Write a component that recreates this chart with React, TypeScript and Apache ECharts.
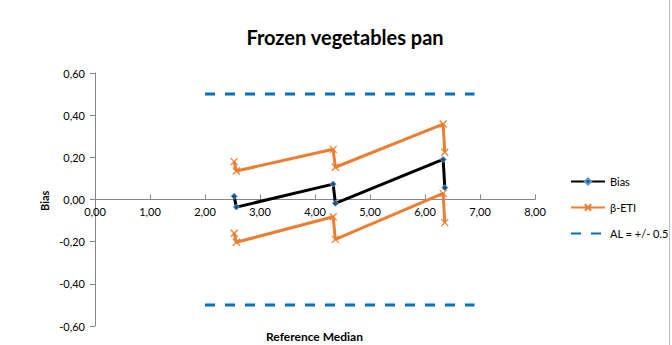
import React, { useEffect, useRef } from "react";
import * as echarts from "echarts";

// Reference median of each sample (two close points per level)
const medianX: number[] = [2.53, 2.57, 4.33, 4.37, 6.33, 6.36];
// Bias at each point
const biasValues: number[] = [0.015, -0.036, 0.073, -0.018, 0.19, 0.056];
// β-expectation tolerance interval, upper and lower limits
const etiUpper: number[] = [0.18, 0.135, 0.238, 0.153, 0.358, 0.224];
const etiLower: number[] = [-0.16, -0.203, -0.082, -0.189, 0.029, -0.11];
// Acceptance limits
const alX: number[] = [2.0, 6.9];
const alLevel = 0.5;

const xTicks = { min: 0, max: 8, interval: 1 };
const yTicks = { min: -0.6, max: 0.6, interval: 0.2 };

const FONT = "Lato, 'Open Sans', sans-serif";
const ORANGE = "#ED7D31";
const BLUE = "#0070C0";

const crossSymbol = "path://M0,0 L10,10 M10,0 L0,10";

const fmt = (v: number) => {
  const r = Math.abs(v) < 1e-9 ? 0 : v;
  return r.toFixed(2).replace(".", ",");
};

const pairs = (xs: number[], ys: number[]) => xs.map((x, i) => [x, ys[i]]);

const GRID = { left: 95, right: 137, top: 73, bottom: 19 };
const CHART_H = 345;

export default function App() {
  const ref = useRef<HTMLDivElement>(null);

  useEffect(() => {
    if (!ref.current) return;
    const chart = echarts.init(ref.current, undefined, { renderer: "svg" });
    // lift the category axis (line, ticks and labels) onto the y = 0 line
    const plotH = CHART_H - GRID.top - GRID.bottom;
    const zeroOffset = -plotH * ((0 - yTicks.min) / (yTicks.max - yTicks.min));
    const etiStyle = {
      type: "line" as const,
      name: "β-ETI",
      symbol: crossSymbol,
      symbolSize: 7,
      itemStyle: { color: ORANGE, borderColor: ORANGE, borderWidth: 1.2 },
      lineStyle: { color: ORANGE, width: 3 },
      z: 3,
    };
    chart.setOption({
      animation: false,
      backgroundColor: "#ffffff",
      title: {
        text: "Frozen vegetables pan",
        left: 340,
        top: 22,
        textAlign: "center",
        textStyle: { fontFamily: FONT, fontSize: 20, fontWeight: "bold", color: "#000" },
      },
      legend: {
        orient: "vertical",
        left: 565,
        top: 171,
        itemWidth: 34,
        itemHeight: 8,
        itemGap: 15,
        data: [
          { name: "Bias" },
          { name: "β-ETI" },
          { name: "AL = +/- 0.5", itemStyle: { opacity: 0 } },
        ],
        textStyle: { fontFamily: FONT, fontSize: 11, color: "#000" },
      },
      grid: GRID,
      xAxis: {
        type: "value",
        min: xTicks.min,
        max: xTicks.max,
        interval: xTicks.interval,
        offset: zeroOffset,
        axisLine: { onZero: false, lineStyle: { color: "#868686", width: 1 } },
        axisTick: { show: true, inside: true, length: 5, lineStyle: { color: "#868686" } },
        axisLabel: { formatter: fmt, fontFamily: FONT, fontSize: 11, color: "#000", margin: 6 },
        splitLine: { show: false },
      },
      yAxis: {
        type: "value",
        min: yTicks.min,
        max: yTicks.max,
        interval: yTicks.interval,
        axisLine: { show: true, onZero: false, lineStyle: { color: "#868686", width: 1 } },
        axisTick: { show: true, length: 5, lineStyle: { color: "#868686" } },
        axisLabel: { formatter: fmt, fontFamily: FONT, fontSize: 11, color: "#000", margin: 10 },
        splitLine: { show: false },
      },
      series: [
        {
          type: "line",
          name: "AL = +/- 0.5",
          data: pairs(alX, alX.map(() => alLevel)),
          symbol: "none",
          lineStyle: { color: BLUE, width: 3, type: [10, 10] },
          itemStyle: { color: BLUE },
          z: 1,
        },
        {
          type: "line",
          name: "AL = +/- 0.5",
          data: pairs(alX, alX.map(() => -alLevel)),
          symbol: "none",
          lineStyle: { color: BLUE, width: 3, type: [10, 10] },
          itemStyle: { color: BLUE },
          z: 1,
        },
        { ...etiStyle, data: pairs(medianX, etiUpper) },
        { ...etiStyle, data: pairs(medianX, etiLower) },
        {
          type: "line",
          name: "Bias",
          data: pairs(medianX, biasValues),
          symbol: "diamond",
          symbolSize: 6,
          itemStyle: { color: "#1F4E79", borderColor: "#5B9BD5", borderWidth: 1 },
          lineStyle: { color: "#000", width: 3 },
          z: 4,
        },
      ],
      graphic: [
        {
          type: "text",
          left: 266,
          top: 330,
          style: { text: "Reference Median", font: `bold 12px ${FONT}`, fill: "#000" },
        },
        {
          type: "text",
          x: 39,
          y: 211,
          rotation: Math.PI / 2,
          style: { text: "Bias", font: `bold 11px ${FONT}`, fill: "#000" },
        },
        {
          type: "line",
          shape: { x1: 669.5, y1: 0, x2: 669.5, y2: 345 },
          style: { stroke: "#bfbfbf", lineWidth: 1 },
        },
      ],
    });
    return () => chart.dispose();
  }, []);

  return (
    <div
      ref={ref}
      style={{ position: "fixed", left: 0, top: 0, width: 672, height: 345 }}
    />
  );
}
